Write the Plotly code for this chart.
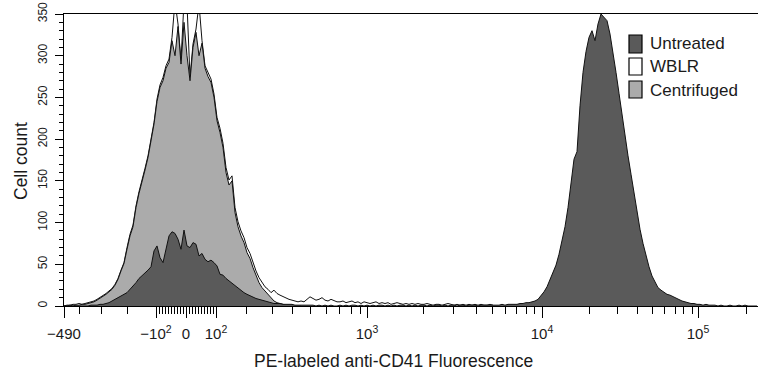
import plotly.graph_objects as go

# Logicle display channels (bin centres), one bin every 3 channels
channels = list(range(0, 694, 3))

# Cell counts per bin
untreated = [
    0, 0, 0, 0, 0, 0, 0, 0, 0, 1,
    1, 1, 2, 2, 3, 4, 6, 8, 9, 12,
    14, 16, 20, 23, 28, 33, 36, 40, 43, 47,
    66, 72, 58, 52, 70, 84, 89, 87, 80, 68,
    91, 72, 70, 76, 74, 60, 63, 56, 53, 55,
    52, 48, 38, 37, 33, 30, 27, 25, 22, 19,
    16, 14, 12, 10, 9, 8, 7, 6, 5, 4,
    3, 3, 3, 2, 2, 2, 2, 1, 1, 1,
    1, 1, 1, 1, 0, 1, 0, 1, 0, 1,
    0, 0,
    1, 0, 1, 0, 1, 1, 0, 1, 0, 1,
    0, 1, 0, 1, 1, 0, 1, 0, 1, 0,
    1, 1, 0, 1, 0, 1, 0, 1, 1, 0,
    1, 0, 1, 1, 0, 1, 0, 1, 1, 0,
    1, 1, 0, 1, 1, 1, 0, 1, 1, 1,
    1, 1,
    1, 1, 2, 1, 2, 2, 2, 2, 3, 3,
    4, 4, 5, 6, 8, 12, 17, 23, 31, 39,
    49, 62, 78, 95, 118, 145, 176, 185, 240, 280,
    305, 322, 330, 318, 338, 350, 346, 342, 326, 305,
    280, 255, 228, 205, 180, 158, 135, 111, 92, 75,
    60, 47, 36, 28, 22, 19, 16, 14, 13, 11,
    10, 8, 6, 5, 4, 3, 3, 2, 2, 1,
    2, 1, 1, 1, 0, 1, 0, 0, 1, 0,
    0, 1, 0, 1, 0, 0, 0, 0,
]

wblr = [
    0, 1, 1, 2, 2, 3, 2, 3, 4, 5,
    6, 8, 10, 12, 15, 18, 21, 26, 33, 43,
    52, 70, 86, 97, 120, 137, 150, 165, 180, 200,
    220, 248, 265, 274, 288, 296, 322, 365, 338, 294,
    365, 362, 274, 314, 332, 362, 318, 288, 279, 272,
    254, 226, 213, 195, 166, 151, 156, 118, 101, 90,
    82, 70, 63, 52, 42, 34, 28, 23, 20, 16,
    19, 15, 13, 11, 10, 8, 7, 6, 5, 6,
    5, 8, 11, 9, 7, 8, 10, 7, 6, 8,
    6, 5,
    5, 6, 4, 5, 6, 4, 5, 3, 5, 4,
    3, 4, 5, 3, 4, 3, 4, 2, 3, 4,
    3, 2, 3, 2, 3, 2, 3, 2, 2, 3,
    2, 1, 2, 2, 1, 2, 3, 2, 1, 2,
    1, 2, 1, 2, 1, 2, 1, 2, 1, 1,
    2, 1,
]

centrifuged = [
    0, 0, 1, 0, 1, 1, 2, 2, 3, 4,
    5, 7, 9, 11, 14, 17, 20, 25, 32, 42,
    51, 68, 84, 95, 118, 135, 148, 163, 178, 198,
    218, 245, 262, 270, 285, 292, 318, 300, 335, 290,
    340, 300, 270, 310, 328, 300, 315, 285, 275, 268,
    250, 222, 208, 190, 160, 145, 150, 112, 95, 84,
    76, 64, 57, 46, 36, 28, 22, 18, 13, 9,
    6, 4, 3, 2, 1, 1, 1, 0, 0, 0,
]

series_names = ["Untreated", "WBLR", "Centrifuged"]

# Logicle axis: channel of each labelled decade, and of the unlabelled minor ticks
major_tick_channels = [0, 92, 122, 152, 303, 478, 634]
major_tick_labels = ["\u2212490", "\u221210<sup>2</sup>", "0", "10<sup>2</sup>",
                     "10<sup>3</sup>", "10<sup>4</sup>", "10<sup>5</sup>"]
minor_tick_channels = [15, 37, 63,
                       95, 98, 101, 104, 107, 110, 113, 116, 119,
                       125, 128, 131, 134, 137, 140, 143, 146, 149,
                       182, 208, 228, 246, 262, 275, 287, 296,
                       359, 389, 412, 428, 441, 452, 462, 470,
                       525, 553, 573, 588, 600, 611, 619, 628,
                       682]

FONT = "Arial, 'Liberation Sans', sans-serif"
colors = {"Untreated": "#5a5a5a", "WBLR": "#ffffff", "Centrifuged": "#ababab"}

fig = go.Figure()
for name, vals in [("WBLR", wblr), ("Centrifuged", centrifuged), ("Untreated", untreated)]:
    fig.add_trace(go.Scatter(
        x=channels[:len(vals)], y=vals, mode="lines", name=name,
        fill="tozeroy", fillcolor=colors[name],
        line=dict(color="#111111", width=1), showlegend=False,
        hoverinfo="skip"))

# invisible trace carrying the minor-tick axis
fig.add_trace(go.Scatter(x=[channels[0]], y=[0], xaxis="x2", mode="markers",
                         marker=dict(opacity=0), showlegend=False, hoverinfo="skip"))

W, H = 758, 375
L, R, T, B = 64, 0, 14, 69
pw, ph = W - L - R, H - T - B


def px(x):
    return (x - L) / pw


def py(y):
    return (H - B - y) / ph


fig.update_layout(
    width=W, height=H,
    margin=dict(l=L, r=R, t=T, b=B),
    paper_bgcolor="white", plot_bgcolor="white",
    font=dict(family=FONT, color="#1a1a1a"),
    xaxis=dict(range=[0, 694], showline=True, linecolor="black", linewidth=1,
               mirror=True, ticks="outside", ticklen=11, tickcolor="black",
               tickvals=major_tick_channels, ticktext=major_tick_labels,
               tickfont=dict(size=15), showgrid=False, zeroline=False,
               ticklabelstandoff=3),
    xaxis2=dict(overlaying="x", matches="x", anchor="y", side="bottom",
                tickvals=minor_tick_channels, ticks="outside", ticklen=7,
                tickcolor="black", showticklabels=False, showline=False,
                showgrid=False, zeroline=False),
    yaxis=dict(range=[0, 350], showline=True, linecolor="black", linewidth=1,
               ticks="outside", ticklen=8, tickcolor="black", dtick=50,
               tickangle=-90, tickfont=dict(size=12), showgrid=False,
               zeroline=False, ticklabelstandoff=3,
               minor=dict(dtick=10, ticks="outside", ticklen=4, tickcolor="black")),
)

# axis titles
fig.add_annotation(text="PE-labeled anti-CD41 Fluorescence", xref="paper", yref="paper",
                   x=px(393), y=py(361), showarrow=False, xanchor="center", yanchor="middle",
                   font=dict(size=17.5))
fig.add_annotation(text="Cell count", xref="paper", yref="paper", textangle=-90,
                   x=px(21), y=py(161), showarrow=False, xanchor="center", yanchor="middle",
                   font=dict(size=17.5))

# legend
legend_rows = [(35, 53, 44), (58, 75, 67), (81, 98, 90)]
for name, (y0, y1, yc) in zip(series_names, legend_rows):
    fig.add_shape(type="rect", xref="paper", yref="paper",
                  x0=px(629), x1=px(642), y0=py(y1), y1=py(y0),
                  fillcolor=colors[name], line=dict(color="black", width=1.2))
    fig.add_annotation(text=name, xref="paper", yref="paper", x=px(648), y=py(yc),
                       showarrow=False, xanchor="left", yanchor="middle",
                       font=dict(size=17))

fig.write_html("out.html")
